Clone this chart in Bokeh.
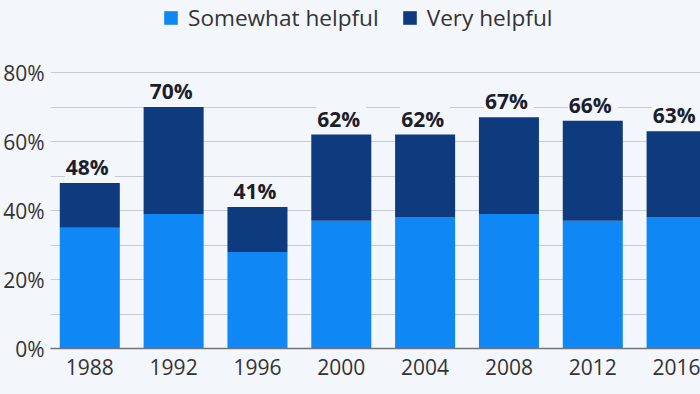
from bokeh.plotting import figure
from bokeh.models import (ColumnDataSource, Range1d, FixedTicker, PrintfTickFormatter,
                          Legend, LegendItem)
from bokeh.core.properties import value
from bokeh.embed import file_html
from bokeh.resources import INLINE

years = [1988, 1992, 1996, 2000, 2004, 2008, 2012, 2016]
somewhat = [35, 39, 28, 37, 38, 39, 37, 38]
very = [13, 31, 13, 25, 24, 28, 29, 25]
y_ticks = [0, 20, 40, 60, 80]
y_minor = [10, 30, 50, 70]
series_names = ["Somewhat helpful", "Very helpful"]

BG = "#f3f6fa"
LIGHT = "#0f87f5"
DARK = "#0e3a7e"
TXT = "#333333"
FONT = "Open Sans"

totals = [a + b for a, b in zip(somewhat, very)]
labels = ["%d%%" % t for t in totals]

src = ColumnDataSource(dict(year=years, somewhat=somewhat, very=very,
                            total=totals, label=labels))

W, H = 700, 394
p = figure(width=W, height=H, output_backend="svg", toolbar_location=None,
           x_range=Range1d(1986.125, 2017.14), y_range=Range1d(0, 100.87),
           min_border_left=0, min_border_right=0, min_border_top=0,
           min_border_bottom=46, outline_line_color=None,
           background_fill_color=BG, border_fill_color=BG)

# total labels first, so that the bars sit over their background boxes
p.text(x="year", y="total", text="label", source=src, text_align="center",
       text_baseline="bottom", y_offset=4, text_font=value(FONT),
       text_font_style="bold", text_font_size="21px", text_color="#1a1f2e",
       background_fill_color=BG, padding=[1, 6, 0, 6])

bw = 4 * 0.716
rs = p.vbar_stack(["somewhat", "very"], x="year", width=bw, color=[LIGHT, DARK],
                  line_color=None, source=src)

# axes
p.yaxis.ticker = FixedTicker(ticks=y_ticks, minor_ticks=y_minor)
p.yaxis.formatter = PrintfTickFormatter(format="%d%%")
p.yaxis.axis_line_color = None
p.yaxis.major_tick_line_color = None
p.yaxis.minor_tick_line_color = None
p.yaxis.major_label_text_font = FONT
p.yaxis.major_label_text_font_size = "21px"
p.yaxis.major_label_text_color = TXT
p.yaxis.major_label_standoff = 0

p.xaxis.ticker = FixedTicker(ticks=years)
p.xaxis.major_label_overrides = {y: str(y) for y in years}
p.xaxis.axis_line_color = "#707378"
p.xaxis.axis_line_width = 1.5
p.xaxis.major_tick_line_color = None
p.xaxis.minor_tick_line_color = None
p.xaxis.major_label_text_font = FONT
p.xaxis.major_label_text_font_size = "21px"
p.xaxis.major_label_text_color = TXT
p.xaxis.major_label_standoff = 4

p.xgrid.grid_line_color = None
p.ygrid.grid_line_color = "#c8ccd2"
p.ygrid.minor_grid_line_color = "#c8ccd2"
p.ygrid.grid_line_width = 1

legend = Legend(items=[LegendItem(label=series_names[0], renderers=[rs[0]]),
                       LegendItem(label=series_names[1], renderers=[rs[1]])],
                orientation="horizontal", location=(112, 315),
                background_fill_color=BG, background_fill_alpha=1,
                border_line_color=None, glyph_width=17, glyph_height=17,
                label_text_font=FONT, label_text_font_size="22.6px",
                label_text_color=TXT, spacing=22, label_standoff=9,
                margin=0, padding=0)
p.add_layout(legend)

html = file_html(p, INLINE)
html = html.replace("</head>", "<style>html,body{background:%s;}</style></head>" % BG, 1)
open("out.html", "w").write(html)
